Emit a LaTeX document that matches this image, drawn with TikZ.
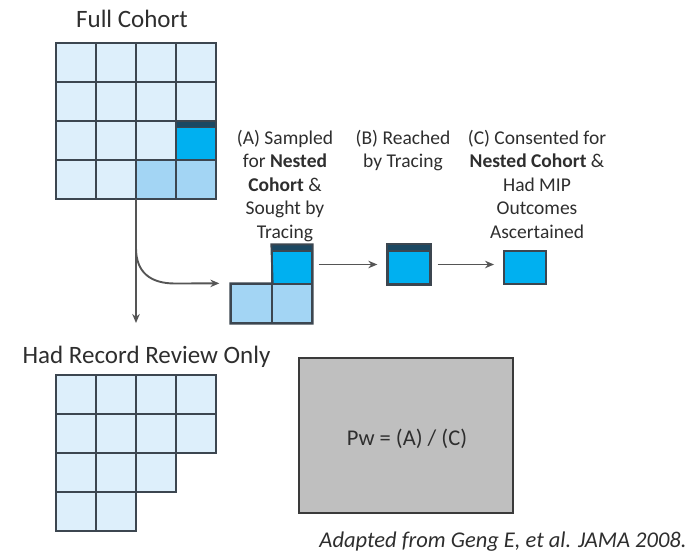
\documentclass[tikz,border=0pt]{standalone}
\usepackage{fontspec}
\setmainfont{Carlito}
\usetikzlibrary{arrows.meta}

\definecolor{inkgray}{HTML}{2E2E2E}
\definecolor{gridline}{HTML}{3C4650}
\definecolor{palecell}{HTML}{DDEFFB}
\definecolor{midcell}{HTML}{A3D5F4}
\definecolor{brightcell}{HTML}{00B0F0}
\definecolor{bandnavy}{HTML}{1B4862}
\definecolor{flowgray}{HTML}{555555}
\definecolor{panelgray}{HTML}{BFBFBF}
\definecolor{paneledge}{HTML}{3A3A3A}

\begin{document}
\begin{tikzpicture}[x=1pt,y=-1pt,
  cellline/.style={draw=gridline,line width=1.3pt},
  outline/.style={draw=gridline,line width=1.9pt,line join=miter},
  cellbox/.style={rectangle,inner sep=0pt,draw=gridline,line width=1.3pt},
  bluecell/.style={cellbox,fill=brightcell},
  midbox/.style={cellbox,fill=midcell},
  band/.style={fill=bandnavy,draw=gridline,line width=1.3pt},
  flow/.style={draw=flowgray,line width=1.9pt,-{Stealth[length=9pt,width=7.5pt]}},
  titletext/.style={text=inkgray,font=\fontsize{25}{30}\selectfont,inner sep=0pt},
  steplabel/.style={text=inkgray,font=\fontsize{19.5}{23.5}\selectfont,align=center,inner sep=0pt,anchor=north},
]
\useasboundingbox (0,0) rectangle (696,552);

% ---------- Full cohort: 4 x 4 grid ----------
\node[titletext] (fulltitle) at (132,18.5) {Full Cohort};
\node[inner sep=0pt,minimum width=160pt,minimum height=156pt] (fullgrid) at (136,121) {};
\foreach \r in {0,...,3}
  \foreach \c in {0,...,3}
    \path[fill=palecell] (56+40*\c,43+39*\r) rectangle ++(40,39);
\fill[midcell] (136,160) rectangle (216,199);
\fill[brightcell] (176,121) rectangle (216,160);
\foreach \c in {1,2,3}
  \draw[cellline] (56+40*\c,43) -- (56+40*\c,199);
\foreach \r in {1,2,3}
  \draw[cellline] (56,43+39*\r) -- (216,43+39*\r);
\filldraw[band] (176,121) rectangle (216,127.5);
\draw[outline] (176,121) rectangle (216,160);
\draw[outline] (56,43) rectangle (216,199);

% ---------- Had record review only: staircase grid ----------
\node[titletext,anchor=base] (recordtitle) at (146.5,363) {Had Record Review Only};
\path[fill=palecell] (56,375) -- (216,375) -- (216,453) -- (176,453) -- (176,492)
  -- (136,492) -- (136,531) -- (56,531) -- cycle;
\draw[cellline] (96,375) -- (96,531);
\draw[cellline] (136,375) -- (136,492);
\draw[cellline] (176,375) -- (176,453);
\draw[cellline] (56,414) -- (216,414);
\draw[cellline] (56,453) -- (176,453);
\draw[cellline] (56,492) -- (136,492);
\draw[outline] (56,375) -- (216,375) -- (216,453) -- (176,453) -- (176,492)
  -- (136,492) -- (136,531) -- (56,531) -- cycle;

% ---------- Sampled subset (L shape) ----------
\node[midbox,minimum width=41pt,minimum height=39pt] (lowleft) at (251.5,303.5) {};
\node[midbox,minimum width=40pt,minimum height=39pt] (lowright) at (292,303.5) {};
\node[bluecell,minimum width=40pt,minimum height=39pt] (sampledcell) at (292,264.5) {};
\filldraw[band] (sampledcell.north west) rectangle ([yshift=-6.5pt]sampledcell.north east);
\draw[outline] (lowleft.south west) -- (lowright.south east) -- (sampledcell.north east)
  -- (sampledcell.north west) -- (lowleft.north east) -- (lowleft.north west) -- cycle;

% ---------- Reached and consented ----------
\node[bluecell,minimum width=42pt,minimum height=39pt] (reached) at (409,264.5) {};
\filldraw[band] (reached.north west) rectangle ([yshift=-6.5pt]reached.north east);
\draw[outline] (reached.north west) rectangle (reached.south east);
\node[bluecell,minimum width=42pt,minimum height=33pt,line width=1.9pt] (consented) at (525,267.5) {};

% ---------- Step labels ----------
\node[steplabel] (labsampled) at (285,130)
  {(A) Sampled\\for \textbf{Nested}\\\textbf{Cohort} \&\\Sought by\\Tracing};
\node[steplabel] (labreached) at (403,130) {(B) Reached\\by Tracing};
\node[steplabel] (labconsented) at (537,130)
  {(C) Consented for\\\textbf{Nested Cohort} \&\\Had MIP\\Outcomes\\Ascertained};

% ---------- Connectors ----------
\coordinate (splitpt) at (136,248);
\coordinate (recordtip) at (136,323);
\draw[flow] (fullgrid.south) -- (recordtip);
\draw[flow] (splitpt) .. controls (136,272) and (150,283.5) .. (175,283.5)
  -- ([xshift=-11pt]lowleft.north west);
\draw[flow,shorten <=6pt,shorten >=10pt] (sampledcell.east) -- (reached.west);
\draw[flow,shorten <=7pt,shorten >=9pt] (reached.east) -- (reached.east -| consented.west);

% ---------- Weight formula panel ----------
\node[rectangle,fill=panelgray,draw=paneledge,line width=1.6pt,
  minimum width=214pt,minimum height=155pt,inner sep=0pt] (weightpanel) at (406,435.5) {};
\node[text=inkgray,font=\fontsize{22.5}{27}\selectfont,anchor=base,inner sep=0pt]
  (weightformula) at (407,445.5) {Pw = (A) / (C)};

% ---------- Source note ----------
\node[text=inkgray,font=\fontsize{22.5}{27}\selectfont\itshape,anchor=base,inner sep=0pt]
  (sourcenote) at (503,547) {Adapted from Geng E, et al. JAMA 2008.};
\end{tikzpicture}
\end{document}
